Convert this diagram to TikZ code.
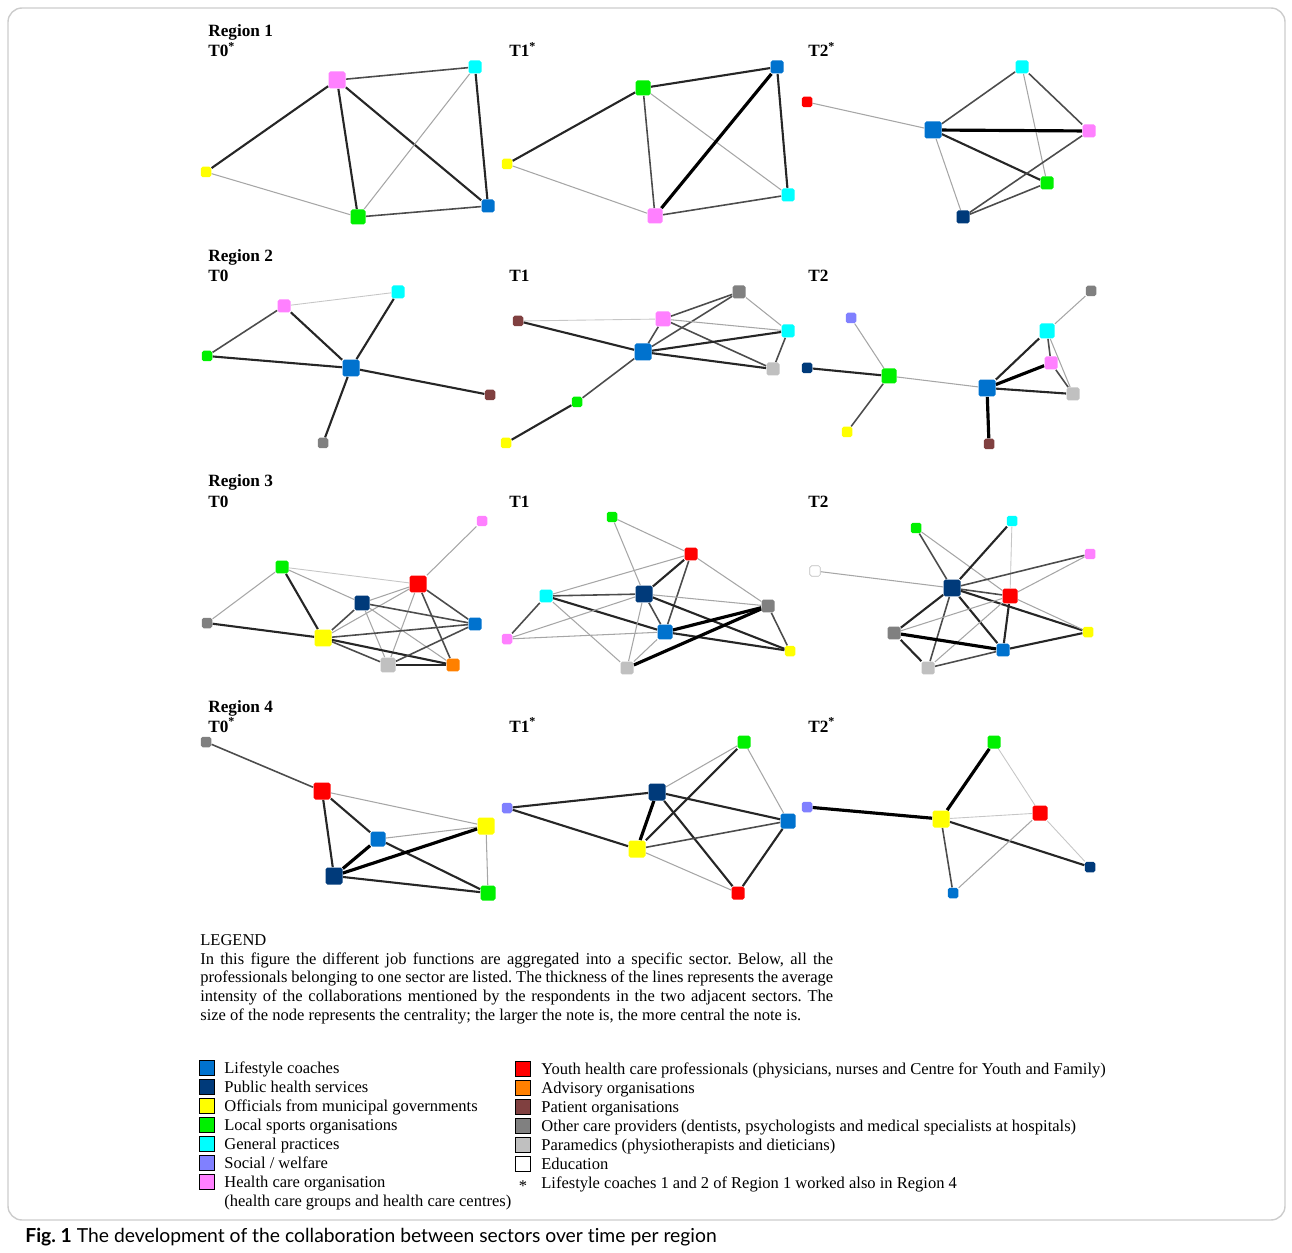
\documentclass[tikz,border=0pt]{standalone}
\usepackage{fontspec}
\setmainfont{Liberation Serif}
\newfontfamily\capfont[Ligatures=NoCommon]{Lato}
\usetikzlibrary{backgrounds}
\definecolor{lifeblue}{RGB}{0,114,206}
\definecolor{pubnavy}{RGB}{0,58,122}
\definecolor{munyel}{RGB}{255,255,0}
\definecolor{sportgrn}{RGB}{0,240,0}
\definecolor{gpcyan}{RGB}{0,255,255}
\definecolor{socvio}{RGB}{128,128,255}
\definecolor{hcopink}{RGB}{255,128,255}
\definecolor{youthred}{RGB}{255,0,0}
\definecolor{advorange}{RGB}{255,128,0}
\definecolor{patbrown}{RGB}{128,64,64}
\definecolor{othgray}{RGB}{128,128,128}
\definecolor{paragray}{RGB}{192,192,192}
\tikzset{
  sector/.style = {rectangle, rounded corners=1pt, inner sep=0pt, draw=none},
  nS/.style = {sector, minimum size=0.21cm},
  nM/.style = {sector, minimum size=0.26cm},
  nL/.style = {sector, minimum size=0.30cm},
  nX/.style = {sector, minimum size=0.34cm},
  e0/.style = {gray!45, line width=0.5pt},% very weak tie
  e1/.style = {gray!70, line width=0.6pt},
  e2/.style = {black!70, line width=0.9pt},
  e3/.style = {black!85, line width=1.2pt},
  e4/.style = {black, line width=1.8pt},% strongest tie
  hdr/.style = {anchor=base west, inner sep=0pt,
    font=\fontsize{9.8}{11}\selectfont\bfseries},
  key/.style = {rectangle, draw=black, line width=0.4pt,
    minimum size=0.3cm, inner sep=0pt},
  keytxt/.style = {anchor=base west, inner sep=0pt,
    font=\fontsize{9.4}{10.8}\selectfont}
}
\begin{document}
\frenchspacing
\begin{tikzpicture}[x=0.02cm, y=-0.02cm]
  \useasboundingbox (0,0) rectangle (1292,1253);
  \draw[gray!40, line width=0.8pt, rounded corners=8pt] (8,8) rectangle (1285,1220);

  % headers
  \node[hdr] (reg1) at (208,37) {Region 1};
  \node[hdr] (ta) at (208,57) {T0\textsuperscript{*}};
  \node[hdr] (tb) at (509,57) {T1\textsuperscript{*}};
  \node[hdr] (tc) at (808,57) {T2\textsuperscript{*}};
  \node[hdr] (reg2) at (208,262) {Region 2};
  \node[hdr] (td) at (208,282) {T0};
  \node[hdr] (te) at (509,282) {T1};
  \node[hdr] (tf) at (808,282) {T2};
  \node[hdr] (reg3) at (208,487) {Region 3};
  \node[hdr] (tg) at (208,507) {T0};
  \node[hdr] (th) at (509,507) {T1};
  \node[hdr] (ti) at (808,507) {T2};
  \node[hdr] (reg4) at (208,712) {Region 4};
  \node[hdr] (tj) at (208,732) {T0\textsuperscript{*}};
  \node[hdr] (tk) at (509,732) {T1\textsuperscript{*}};
  \node[hdr] (tl) at (808,732) {T2\textsuperscript{*}};

  % Region 1, T0
  \node[nX, fill=hcopink] (Apnk) at (337,80) {};
  \node[nM, fill=gpcyan] (Acya) at (475,67) {};
  \node[nS, fill=munyel] (Ayel) at (206,172) {};
  \node[nL, fill=sportgrn] (Agrn) at (358,217) {};
  \node[nM, fill=lifeblue] (Ablu) at (488,206) {};
  % Region 1, T1
  \node[nL, fill=sportgrn] (Bgrn) at (643,88) {};
  \node[nM, fill=lifeblue] (Bblu) at (777,67) {};
  \node[nS, fill=munyel] (Byel) at (507,164) {};
  \node[nL, fill=hcopink] (Bpnk) at (655,216) {};
  \node[nM, fill=gpcyan] (Bcya) at (788,195) {};
  % Region 1, T2
  \node[nM, fill=gpcyan] (Ccya) at (1022,67) {};
  \node[nS, fill=youthred] (Cred) at (807,102) {};
  \node[nX, fill=lifeblue] (Cblu) at (933,130) {};
  \node[nM, fill=hcopink] (Cpnk) at (1089,131) {};
  \node[nM, fill=sportgrn] (Cgrn) at (1047,183) {};
  \node[nM, fill=pubnavy] (Cnav) at (963,217) {};

  % Region 2, T0
  \node[nM, fill=hcopink] (Dpnk) at (284,306) {};
  \node[nM, fill=gpcyan] (Dcya) at (398,292) {};
  \node[nS, fill=sportgrn] (Dgrn) at (207,356) {};
  \node[nX, fill=lifeblue] (Dblu) at (351,368) {};
  \node[nS, fill=patbrown] (Dbrn) at (490,395) {};
  \node[nS, fill=othgray] (Dgry) at (323,443) {};
  % Region 2, T1
  \node[nS, fill=patbrown] (Ebrn) at (518,321) {};
  \node[nL, fill=hcopink] (Epnk) at (663,319) {};
  \node[nM, fill=othgray] (Egry) at (739,292) {};
  \node[nM, fill=gpcyan] (Ecya) at (788,331) {};
  \node[nX, fill=lifeblue] (Eblu) at (643,352) {};
  \node[nM, fill=paragray] (Elgr) at (773,369) {};
  \node[nS, fill=sportgrn] (Egrn) at (577,402) {};
  \node[nS, fill=munyel] (Eyel) at (506,443) {};
  % Region 2, T2
  \node[nS, fill=othgray] (Fgry) at (1091,291) {};
  \node[nS, fill=socvio] (Fvio) at (851,318) {};
  \node[nL, fill=gpcyan] (Fcya) at (1047,331) {};
  \node[nS, fill=pubnavy] (Fnav) at (807,368) {};
  \node[nL, fill=sportgrn] (Fgrn) at (889,376) {};
  \node[nM, fill=hcopink] (Fpnk) at (1051,363) {};
  \node[nX, fill=lifeblue] (Fblu) at (987,388) {};
  \node[nM, fill=paragray] (Flgr) at (1073,394) {};
  \node[nS, fill=munyel] (Fyel) at (847,432) {};
  \node[nS, fill=patbrown] (Fbrn) at (989,444) {};

  % Region 3, T0
  \node[nS, fill=hcopink] (Gpnk) at (482,521) {};
  \node[nM, fill=sportgrn] (Ggrn) at (282,567) {};
  \node[nX, fill=youthred] (Gred) at (418,584) {};
  \node[nL, fill=pubnavy] (Gnav) at (362,603) {};
  \node[nS, fill=othgray] (Ggry) at (207,623) {};
  \node[nM, fill=lifeblue] (Gblu) at (475,624) {};
  \node[nX, fill=munyel] (Gyel) at (323,638) {};
  \node[nL, fill=paragray] (Glgr) at (388,665) {};
  \node[nM, fill=advorange] (Gora) at (453,665) {};
  % Region 3, T1
  \node[nS, fill=sportgrn] (Hgrn) at (612,517) {};
  \node[nM, fill=youthred] (Hred) at (691,554) {};
  \node[nM, fill=gpcyan] (Hcya) at (546,596) {};
  \node[nX, fill=pubnavy] (Hnav) at (644,594) {};
  \node[nM, fill=othgray] (Hgry) at (768,606) {};
  \node[nS, fill=hcopink] (Hpnk) at (507,639) {};
  \node[nL, fill=lifeblue] (Hblu) at (665,632) {};
  \node[nS, fill=munyel] (Hyel) at (790,651) {};
  \node[nM, fill=paragray] (Hlgr) at (627,668) {};
  % Region 3, T2
  \node[nS, fill=sportgrn] (Igrn) at (916,528) {};
  \node[nS, fill=gpcyan] (Icya) at (1012,521) {};
  \node[nS, fill=hcopink] (Ipnk) at (1090,554) {};
  \node[nS, fill=white, draw=gray!50, line width=0.4pt] (Iwht) at (815,571) {};
  \node[nX, fill=pubnavy] (Inav) at (952,588) {};
  \node[nL, fill=youthred] (Ired) at (1010,596) {};
  \node[nM, fill=othgray] (Igry) at (894,633) {};
  \node[nM, fill=lifeblue] (Iblu) at (1003,650) {};
  \node[nS, fill=munyel] (Iyel) at (1088,632) {};
  \node[nM, fill=paragray] (Ilgr) at (928,668) {};

  % Region 4, T0
  \node[nS, fill=othgray] (Jgry) at (206,742) {};
  \node[nX, fill=youthred] (Jred) at (322,791) {};
  \node[nX, fill=munyel] (Jyel) at (486,826) {};
  \node[nL, fill=lifeblue] (Jblu) at (378,839) {};
  \node[nX, fill=pubnavy] (Jnav) at (334,876) {};
  \node[nL, fill=sportgrn] (Jgrn) at (488,893) {};
  % Region 4, T1
  \node[nM, fill=sportgrn] (Kgrn) at (744,742) {};
  \node[nX, fill=pubnavy] (Knav) at (657,792) {};
  \node[nS, fill=socvio] (Kvio) at (507,808) {};
  \node[nL, fill=lifeblue] (Kblu) at (788,821) {};
  \node[nX, fill=munyel] (Kyel) at (637,849) {};
  \node[nM, fill=youthred] (Kred) at (738,893) {};
  % Region 4, T2
  \node[nM, fill=sportgrn] (Lgrn) at (994,742) {};
  \node[nS, fill=socvio] (Lvio) at (807,807) {};
  \node[nX, fill=munyel] (Lyel) at (941,819) {};
  \node[nL, fill=youthred] (Lred) at (1040,813) {};
  \node[nS, fill=pubnavy] (Lnav) at (1090,867) {};
  \node[nS, fill=lifeblue] (Lblu) at (953,893) {};

  \begin{pgfonlayer}{background}
    % Region 1
    \draw[e2] (Apnk) -- (Acya);
    \draw[e3] (Apnk) -- (Ayel);
    \draw[e3] (Apnk) -- (Agrn);
    \draw[e3] (Apnk) -- (Ablu);
    \draw[e1] (Acya) -- (Agrn);
    \draw[e3] (Acya) -- (Ablu);
    \draw[e1] (Ayel) -- (Agrn);
    \draw[e2] (Agrn) -- (Ablu);
    \draw[e3] (Bgrn) -- (Bblu);
    \draw[e3] (Byel) -- (Bgrn);
    \draw[e1] (Byel) -- (Bpnk);
    \draw[e2] (Bgrn) -- (Bpnk);
    \draw[e1] (Bgrn) -- (Bcya);
    \draw[e4] (Bblu) -- (Bpnk);
    \draw[e3] (Bblu) -- (Bcya);
    \draw[e2] (Bpnk) -- (Bcya);
    \draw[e1] (Cred) -- (Cblu);
    \draw[e2] (Cblu) -- (Ccya);
    \draw[e2] (Ccya) -- (Cpnk);
    \draw[e1] (Ccya) -- (Cgrn);
    \draw[e4] (Cblu) -- (Cpnk);
    \draw[e3] (Cblu) -- (Cgrn);
    \draw[e1] (Cblu) -- (Cnav);
    \draw[e2] (Cpnk) -- (Cnav);
    \draw[e2] (Cgrn) -- (Cnav);
    % Region 2
    \draw[e0] (Dpnk) -- (Dcya);
    \draw[e2] (Dpnk) -- (Dgrn);
    \draw[e3] (Dpnk) -- (Dblu);
    \draw[e3] (Dcya) -- (Dblu);
    \draw[e3] (Dgrn) -- (Dblu);
    \draw[e3] (Dblu) -- (Dbrn);
    \draw[e3] (Dblu) -- (Dgry);
    \draw[e0] (Ebrn) -- (Epnk);
    \draw[e3] (Ebrn) -- (Eblu);
    \draw[e2] (Epnk) -- (Eblu);
    \draw[e2] (Epnk) -- (Egry);
    \draw[e2] (Eblu) -- (Egry);
    \draw[e1] (Epnk) -- (Ecya);
    \draw[e2] (Epnk) -- (Elgr);
    \draw[e1] (Egry) -- (Ecya);
    \draw[e3] (Eblu) -- (Ecya);
    \draw[e3] (Eblu) -- (Elgr);
    \draw[e2] (Ecya) -- (Elgr);
    \draw[e2] (Eblu) -- (Egrn);
    \draw[e3] (Egrn) -- (Eyel);
    \draw[e1] (Fgry) -- (Fcya);
    \draw[e1] (Fvio) -- (Fgrn);
    \draw[e3] (Fnav) -- (Fgrn);
    \draw[e2] (Fgrn) -- (Fyel);
    \draw[e1] (Fgrn) -- (Fblu);
    \draw[e3] (Fblu) -- (Fcya);
    \draw[e4] (Fblu) -- (Fpnk);
    \draw[e3] (Fblu) -- (Flgr);
    \draw[e4] (Fblu) -- (Fbrn);
    \draw[e2] (Fcya) -- (Fpnk);
    \draw[e1] (Fcya) -- (Flgr);
    \draw[e2] (Fpnk) -- (Flgr);
    % Region 3
    \draw[e1] (Gpnk) -- (Gred);
    \draw[e0] (Ggrn) -- (Gred);
    \draw[e1] (Ggrn) -- (Ggry);
    \draw[e1] (Ggrn) -- (Gnav);
    \draw[e3] (Ggrn) -- (Gyel);
    \draw[e3] (Ggry) -- (Gyel);
    \draw[e1] (Gred) -- (Gnav);
    \draw[e1] (Gred) -- (Gyel);
    \draw[e1] (Gred) -- (Glgr);
    \draw[e2] (Gred) -- (Gora);
    \draw[e2] (Gred) -- (Gblu);
    \draw[e2] (Gnav) -- (Gyel);
    \draw[e2] (Gnav) -- (Gblu);
    \draw[e1] (Gnav) -- (Glgr);
    \draw[e1] (Gnav) -- (Gora);
    \draw[e2] (Gyel) -- (Gblu);
    \draw[e2] (Gyel) -- (Glgr);
    \draw[e3] (Gyel) -- (Gora);
    \draw[e3] (Glgr) -- (Gora);
    \draw[e2] (Glgr) -- (Gblu);
    \draw[e1] (Hgrn) -- (Hred);
    \draw[e1] (Hgrn) -- (Hnav);
    \draw[e1] (Hred) -- (Hcya);
    \draw[e3] (Hred) -- (Hnav);
    \draw[e2] (Hred) -- (Hblu);
    \draw[e1] (Hred) -- (Hgry);
    \draw[e2] (Hcya) -- (Hnav);
    \draw[e3] (Hcya) -- (Hblu);
    \draw[e2] (Hcya) -- (Hpnk);
    \draw[e1] (Hcya) -- (Hlgr);
    \draw[e1] (Hnav) -- (Hpnk);
    \draw[e1] (Hnav) -- (Hgry);
    \draw[e3] (Hnav) -- (Hyel);
    \draw[e2] (Hnav) -- (Hblu);
    \draw[e1] (Hnav) -- (Hlgr);
    \draw[e1] (Hpnk) -- (Hblu);
    \draw[e4] (Hblu) -- (Hgry);
    \draw[e3] (Hblu) -- (Hyel);
    \draw[e1] (Hblu) -- (Hlgr);
    \draw[e4] (Hlgr) -- (Hgry);
    \draw[e2] (Hgry) -- (Hyel);
    \draw[e2] (Igrn) -- (Inav);
    \draw[e1] (Igrn) -- (Ired);
    \draw[e3] (Icya) -- (Inav);
    \draw[e0] (Icya) -- (Ired);
    \draw[e2] (Ipnk) -- (Inav);
    \draw[e1] (Ipnk) -- (Ired);
    \draw[e1] (Iwht) -- (Inav);
    \draw[e2] (Inav) -- (Ired);
    \draw[e3] (Inav) -- (Iyel);
    \draw[e3] (Inav) -- (Igry);
    \draw[e2] (Inav) -- (Ilgr);
    \draw[e3] (Inav) -- (Iblu);
    \draw[e1] (Ired) -- (Igry);
    \draw[e1] (Ired) -- (Ilgr);
    \draw[e3] (Ired) -- (Iblu);
    \draw[e1] (Ired) -- (Iyel);
    \draw[e4] (Igry) -- (Iblu);
    \draw[e3] (Igry) -- (Ilgr);
    \draw[e3] (Iblu) -- (Iyel);
    \draw[e2] (Iblu) -- (Ilgr);
    % Region 4
    \draw[e2] (Jgry) -- (Jred);
    \draw[e1] (Jred) -- (Jyel);
    \draw[e3] (Jred) -- (Jblu);
    \draw[e3] (Jred) -- (Jnav);
    \draw[e1] (Jblu) -- (Jyel);
    \draw[e4] (Jblu) -- (Jnav);
    \draw[e3] (Jblu) -- (Jgrn);
    \draw[e4] (Jnav) -- (Jyel);
    \draw[e3] (Jnav) -- (Jgrn);
    \draw[e1] (Jyel) -- (Jgrn);
    \draw[e3] (Kvio) -- (Knav);
    \draw[e3] (Kvio) -- (Kyel);
    \draw[e1] (Knav) -- (Kgrn);
    \draw[e4] (Knav) -- (Kyel);
    \draw[e3] (Knav) -- (Kblu);
    \draw[e3] (Knav) -- (Kred);
    \draw[e3] (Kyel) -- (Kgrn);
    \draw[e2] (Kyel) -- (Kblu);
    \draw[e1] (Kyel) -- (Kred);
    \draw[e1] (Kgrn) -- (Kblu);
    \draw[e3] (Kblu) -- (Kred);
    \draw[e4] (Lvio) -- (Lyel);
    \draw[e4] (Lyel) -- (Lgrn);
    \draw[e0] (Lgrn) -- (Lred);
    \draw[e0] (Lyel) -- (Lred);
    \draw[e3] (Lyel) -- (Lnav);
    \draw[e0] (Lred) -- (Lnav);
    \draw[e2] (Lyel) -- (Lblu);
    \draw[e1] (Lred) -- (Lblu);
  \end{pgfonlayer}

  % legend
  \node[keytxt] (legend) at (200,945) {LEGEND};
  \node[keytxt, text width=12.66cm, align=justify] (legtext) at (200,964)
    {In this figure the different job functions are aggregated into a specific sector. Below, all the\linebreak
     professionals belonging to one sector are listed. The thickness of the lines represents the average\linebreak
     intensity of the collaborations mentioned by the respondents in the two adjacent sectors. The\linebreak
     size of the node represents the centrality; the larger the note is, the more central the note is.};

  \node[key, fill=lifeblue] (k1) at (207,1068) {};
  \node[keytxt] (k1t) at (224,1073) {Lifestyle coaches};
  \node[key, fill=pubnavy] (k2) at (207,1087) {};
  \node[keytxt] (k2t) at (224,1092) {Public health services};
  \node[key, fill=munyel] (k3) at (207,1106) {};
  \node[keytxt] (k3t) at (224,1111) {Officials from municipal governments};
  \node[key, fill=sportgrn] (k4) at (207,1125) {};
  \node[keytxt] (k4t) at (224,1130) {Local sports organisations};
  \node[key, fill=gpcyan] (k5) at (207,1144) {};
  \node[keytxt] (k5t) at (224,1149) {General practices};
  \node[key, fill=socvio] (k6) at (207,1163) {};
  \node[keytxt] (k6t) at (224,1168) {Social / welfare};
  \node[key, fill=hcopink] (k7) at (207,1182) {};
  \node[keytxt] (k7t) at (224,1187) {Health care organisation};
  \node[keytxt] (k7u) at (224,1206) {(health care groups and health care centres)};

  \node[key, fill=youthred] (k8) at (523,1069) {};
  \node[keytxt] (k8t) at (541,1074) {Youth health care professionals (physicians, nurses and Centre for Youth and Family)};
  \node[key, fill=advorange] (k9) at (523,1088) {};
  \node[keytxt] (k9t) at (541,1093) {Advisory organisations};
  \node[key, fill=patbrown] (k10) at (523,1107) {};
  \node[keytxt] (k10t) at (541,1112) {Patient organisations};
  \node[key, fill=othgray] (k11) at (523,1126) {};
  \node[keytxt] (k11t) at (541,1131) {Other care providers (dentists, psychologists and medical specialists at hospitals)};
  \node[key, fill=paragray] (k12) at (523,1145) {};
  \node[keytxt] (k12t) at (541,1150) {Paramedics (physiotherapists and dieticians)};
  \node[key, fill=white] (k13) at (523,1164) {};
  \node[keytxt] (k13t) at (541,1169) {Education};
  \node[keytxt, anchor=base] (k14) at (523,1191) {*};
  \node[keytxt] (k14t) at (541,1188) {Lifestyle coaches 1 and 2 of Region 1 worked also in Region 4};

  % caption
  \node[anchor=base west, inner sep=0pt, font=\capfont\fontsize{11}{12}\selectfont]
    (caption) at (25,1242) {\textbf{Fig. 1} The development of the collaboration between sectors over time per region};
\end{tikzpicture}
\end{document}
